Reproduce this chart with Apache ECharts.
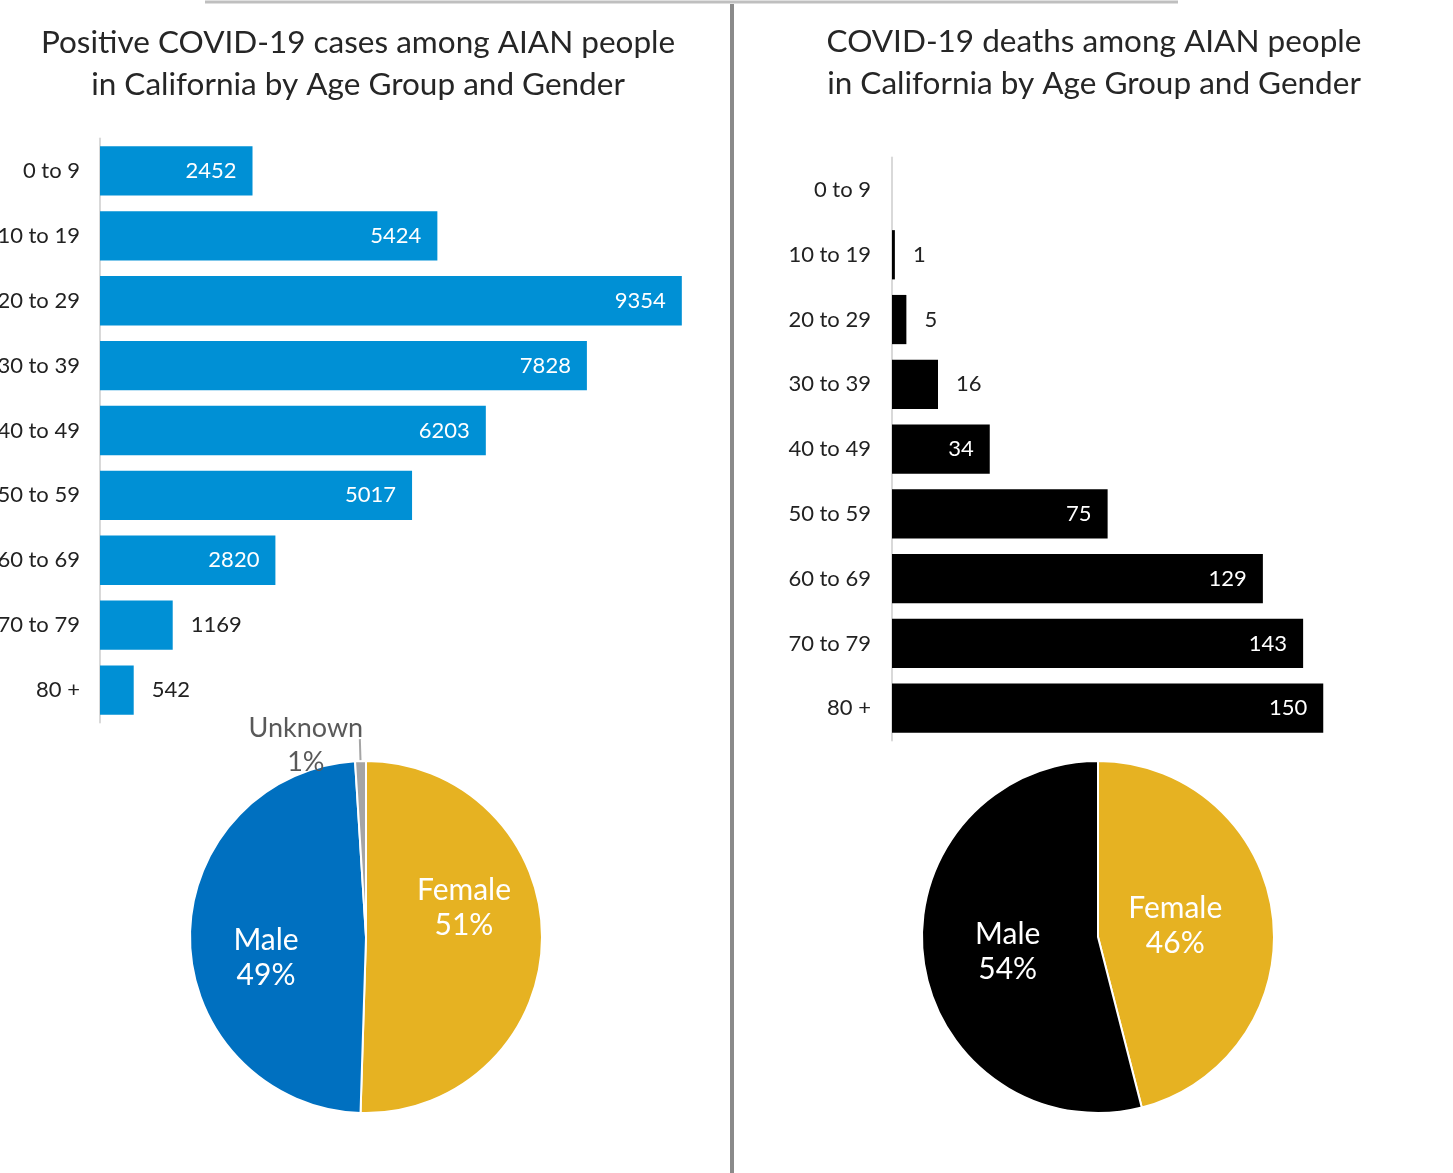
<!DOCTYPE html>
<html><head><meta charset="utf-8">
<script src="https://cdn.jsdelivr.net/npm/echarts@6/dist/echarts.min.js"></script>
<style>html,body{margin:0;padding:0;background:#fff}#c{width:1453px;height:1173px}</style>
</head><body><div id="c"></div>
<script>
const ageGroups = ['0 to 9','10 to 19','20 to 29','30 to 39','40 to 49','50 to 59','60 to 69','70 to 79','80 +'];
const caseValues = [2452,5424,9354,7828,6203,5017,2820,1169,542];
const deathValues = [0,1,5,16,34,75,129,143,150];
const caseGenderNames = ['Female','Male','Unknown'];
const caseGenderPct = [51,49,1];
const deathGenderNames = ['Female','Male'];
const deathGenderPct = [46,54];

const FONT = 'Lato';
const BLUE = '#0090d5', MALE_BLUE = '#0070c0', GOLD = '#e6b222', GRAY = '#a5a5a5', BLACK = '#000000';

function barData(vals, threshold, color){
  return vals.map(v => ({
    value: v,
    itemStyle: {color: color},
    label: v >= threshold
      ? {position: 'insideRight', color: '#fff', distance: 16}
      : {position: 'right', color: '#222', distance: 18}
  }));
}

const chart = echarts.init(document.getElementById('c'), null, {renderer: 'canvas'});
const titleStyle = {fontFamily: FONT, fontSize: 31.5, color: '#262626', lineHeight: 42, fontWeight: 'normal'};
const catAxis = (gi, labelMargin) => ({
  type: 'category', gridIndex: gi, data: ageGroups, inverse: true,
  axisTick: {show: false},
  axisLine: {lineStyle: {color: '#d9d9d9', width: 2}},
  axisLabel: {fontFamily: FONT, fontSize: 22, color: '#222', margin: labelMargin}
});
const barLabel = {show: true, fontFamily: FONT, fontSize: 22, formatter: p => p.value === 0 ? '' : String(p.value)};

chart.setOption({
  animation: false,
  backgroundColor: '#fff',
  title: [
    {text: 'Positive COVID-19 cases among AIAN people\nin California by Age Group and Gender', left: 353, top: 17, textAlign: 'center', textStyle: titleStyle},
    {text: 'COVID-19 deaths among AIAN people\nin California by Age Group and Gender', left: 1089, top: 16, textAlign: 'center', textStyle: titleStyle}
  ],
  grid: [
    {left: 100, width: 622, top: 138.5, height: 584, containLabel: false, outerBoundsMode: 'none'},
    {left: 892, width: 460, top: 157.6, height: 583, containLabel: false, outerBoundsMode: 'none'}
  ],
  xAxis: [
    {type: 'value', gridIndex: 0, min: 0, max: 10000, show: false, splitLine: {show: false}},
    {type: 'value', gridIndex: 1, min: 0, max: 160, show: false, splitLine: {show: false}}
  ],
  yAxis: [catAxis(0, 20), catAxis(1, 21)],
  series: [
    {type: 'bar', xAxisIndex: 0, yAxisIndex: 0, barCategoryGap: '24%', data: barData(caseValues, 2000, BLUE), label: barLabel},
    {type: 'bar', xAxisIndex: 1, yAxisIndex: 1, barCategoryGap: '24%', data: barData(deathValues, 20, BLACK), label: barLabel},
    {
      type: 'pie', center: [366, 937], radius: 176, startAngle: 90, clockwise: true,
      data: caseGenderNames.map((n, i) => ({name: n, value: caseGenderPct[i],
        itemStyle: {color: [GOLD, MALE_BLUE, GRAY][i]},
        label: i === 2
          ? {position: 'outside', color: '#595959', fontSize: 27, lineHeight: 34,
             formatter: '{u|{b}}\n{u|{c}%}',
             rich: {u: {width: 114, align: 'center', fontSize: 27, lineHeight: 34, color: '#595959', fontFamily: FONT}}}
          : {position: 'inside', color: '#fff', fontSize: 30, lineHeight: 35},
        labelLine: i === 2 ? {show: true, length: 22, length2: 0, lineStyle: {color: '#a5a5a5', width: 2}} : {show: false}
      })),
      itemStyle: {borderColor: '#fff', borderWidth: 2},
      label: {show: true, fontFamily: FONT, formatter: '{b}\n{c}%'},
      labelLayout: function(p){
        if (p.dataIndex === 0) return {dx: 7, dy: -31};
        if (p.dataIndex === 1) return {dx: -9, dy: 19};
        return {dx: 8, dy: 6};
      }
    },
    {
      type: 'pie', center: [1098, 937], radius: 176, startAngle: 90, clockwise: true,
      data: deathGenderNames.map((n, i) => ({name: n, value: deathGenderPct[i], itemStyle: {color: [GOLD, BLACK][i]}})),
      itemStyle: {borderColor: '#fff', borderWidth: 2},
      label: {show: true, position: 'inside', color: '#fff', fontSize: 30, lineHeight: 35, fontFamily: FONT, formatter: '{b}\n{c}%'},
      labelLine: {show: false},
      labelLayout: function(p){
        if (p.dataIndex === 0) return {dx: -13, dy: 0};
        return {dx: 0, dy: 3};
      }
    }
  ],
  graphic: [
    {type: 'line', shape: {x1: 205, y1: 2, x2: 1178, y2: 2}, style: {stroke: '#bfbfbf', lineWidth: 3}},
    {type: 'line', shape: {x1: 732, y1: 4, x2: 732, y2: 1173}, style: {stroke: '#8a8a8a', lineWidth: 4}}
  ]
});
</script></body></html>
